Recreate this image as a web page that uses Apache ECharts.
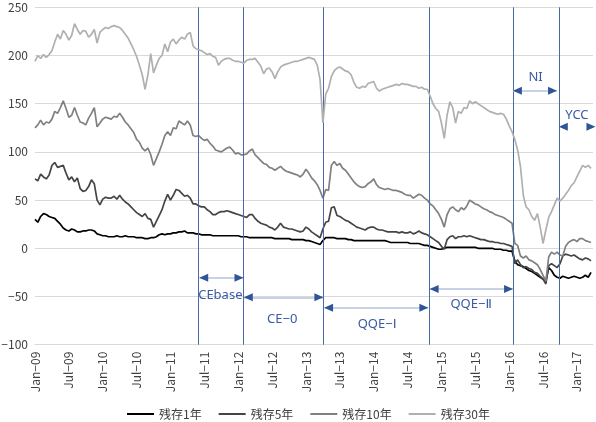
<!DOCTYPE html>
<html><head><meta charset="utf-8">
<script src="https://cdn.jsdelivr.net/npm/echarts@6/dist/echarts.min.js"></script>
<style>html,body{margin:0;padding:0;background:#fff}#c{width:596px;height:422px}</style>
</head><body><div id="c"></div>
<script>
// x positions: months since Jan-2009, half-month steps
const tickLabels = ['Jan−09','Jul−09','Jan−10','Jul−10','Jan−11','Jul−11','Jan−12','Jul−12','Jan−13','Jul−13','Jan−14','Jul−14','Jan−15','Jul−15','Jan−16','Jul−16','Jan−17'];
const seriesNames = ['残存1年','残存5年','残存10年','残存30年'];

const y1 = [
30,27,33,36,35,33,32,31,28,25,
21,19,18,20,19,17,17,18,18,19,
19,18,15,14,13,13,12,12,12,13,
12,12,13,12,12,12,11,11,11,10,
10,11,11,12,14,15,14,15,15,16,
16,17,17,18,16,16,16,15,15,14,
14,14,14,13,13,13,13,13,13,13,
13,13,13,12,12,12,11,11,11,11,
11,11,11,11,11,10,10,10,10,10,
10,9,9,9,9,9,8,8,7,6,
5,4,8,11,11,11,11,10,10,10,
10,9,9,8,8,8,8,8,8,8,
8,8,8,8,8,7,6,6,6,6,
6,6,6,5,5,5,5,4,3,3,
2,1,0,-1,-1,0,1,1,1,1,
1,1,1,1,1,1,1,0,0,0,
0,0,0,-1,-1,-1,-2,-2,-3,-3,
-13,-17,-18,-19,-21,-23,-24,-26,-28,-30,
-32,-34,-20,-23,-28,-30,-31,-29,-30,-31,
-30,-29,-30,-31,-30,-28,-30,-25
];
const y5 = [
72,70,77,74,72,76,86,89,84,85,
86,78,71,74,69,73,62,59,60,64,
71,67,50,45,51,53,52,52,54,51,
55,51,48,46,43,40,37,35,33,36,
31,30,22,28,34,40,49,56,50,55,
61,60,57,54,55,52,46,46,44,43,
43,40,38,35,35,37,38,38,39,38,
37,36,35,34,33,32,35,35,31,28,
26,25,24,22,21,19,22,26,22,21,
20,20,19,18,17,18,22,20,17,15,
13,11,20,27,28,42,43,34,33,31,
29,28,26,24,22,21,20,19,21,22,
22,20,19,19,18,17,17,17,17,16,
17,16,16,17,15,16,18,16,15,14,
12,10,8,6,2,-1,9,12,13,10,
12,12,13,12,13,12,11,10,9,9,
8,7,7,6,6,5,5,4,3,2,
-16,-12,-17,-20,-19,-21,-22,-25,-26,-29,
-32,-37,-18,-16,-18,-20,-16,-8,-6,-7,
-8,-7,-9,-11,-12,-10,-11,-13
];
const y10 = [
125,128,133,128,131,130,134,142,140,146,
153,145,136,138,146,138,131,130,128,135,
140,146,126,130,134,136,135,134,137,136,
140,136,131,128,124,120,113,110,104,101,
104,97,86,93,100,108,117,121,117,125,
124,132,130,128,132,128,117,116,117,114,
112,113,109,106,102,101,100,102,104,105,
102,98,99,97,97,98,101,103,97,94,
91,88,87,84,83,81,83,85,82,80,
79,78,77,76,74,77,82,78,73,70,
66,60,52,61,60,86,90,86,88,83,
81,77,73,69,66,64,63,64,67,69,
72,66,63,62,61,62,61,60,60,59,
58,56,55,55,52,54,56,55,52,50,
46,44,40,36,30,22,35,41,43,40,
38,42,40,44,50,48,46,45,43,41,
40,38,37,35,34,33,32,30,28,26,
5,3,-8,-10,-8,-12,-13,-15,-17,-22,
-28,-34,-9,-4,-6,-4,-7,-8,2,6,
8,9,7,10,10,8,7,6
];
const y30 = [
194,200,197,201,198,201,205,214,222,217,
226,222,216,221,233,227,222,226,225,219,
222,227,213,224,227,229,228,230,231,230,
229,226,222,218,212,206,199,190,180,165,
180,202,182,190,197,200,212,204,214,217,
212,216,219,217,222,224,210,207,206,205,
203,201,202,199,198,190,194,196,197,197,
195,194,194,193,192,195,196,196,197,193,
189,181,186,187,183,176,183,188,190,191,
192,193,194,194,195,196,197,198,197,196,
190,175,130,160,166,178,184,187,188,186,
184,183,180,172,167,166,168,167,171,172,
173,166,163,165,166,167,168,169,170,169,
171,170,170,169,168,168,166,167,165,165,
158,150,145,142,130,114,138,152,146,130,
142,140,146,145,153,150,152,150,148,146,
144,142,141,140,139,140,139,134,127,121,
113,102,85,55,43,40,33,29,36,22,
5,19,32,38,45,52,49,52,56,60,
65,68,74,80,86,84,86,83
];
const months = y1.map((_, i) => i * 0.5);

// policy events (months since Jan-2009)
const policyLines = [28.94, 36.85, 51.06, 69.82, 84.69, 92.83];
const annotations = [
  {text:'CEbase', from:29.17, to:36.85, arrowY:-30.5, textX:32.83, textY:-48.4},
  {text:'CE−0', from:37.08, to:51.0, arrowY:-50.8, textX:43.8, textY:-73.7},
  {text:'QQE−Ⅰ', from:51.3, to:69.6, arrowY:-61.6, textX:60.6, textY:-78.5},
  {text:'QQE−Ⅱ', from:70.0, to:84.6, arrowY:-42.2, textX:77.26, textY:-57.8},
  {text:'NI', from:84.74, to:92.4, arrowY:163.5, textX:88.67, textY:177.4},
  {text:'YCC', from:92.88, to:99.2, arrowY:126.1, textX:96.0, textY:138.3}
];

const colors = ['#000000','#454545','#808080','#b0b0b0'];
const values = [y1, y5, y10, y30];
const FONT = '"Noto Sans CJK JP", "Noto Sans", sans-serif';
const ANN_FONT = '"Noto Sans", "DejaVu Sans", "Noto Sans CJK JP", sans-serif';
const ANN_COLOR = '#3a5ba3';
const HEAD = 0.71;

const series = seriesNames.map((name, k) => ({
  name, type:'line', symbol:'none', showSymbol:false,
  data: months.map((m, i) => [m, values[k][i]]),
  lineStyle:{color:colors[k], width:1.7},
  itemStyle:{color:colors[k]},
  animation:false, z: 2 + k
}));

const shafts = annotations.map(a => [{coord:[a.from, a.arrowY]}, {coord:[a.to, a.arrowY]}]);
const vlines = policyLines.map(x => ({xAxis:x}));
const heads = [];
const texts = [];
annotations.forEach(a => {
  heads.push({coord:[a.from + HEAD, a.arrowY], symbol:'triangle', symbolSize:[8,9], symbolRotate:90});
  heads.push({coord:[a.to - HEAD, a.arrowY], symbol:'triangle', symbolSize:[8,9], symbolRotate:-90});
  texts.push({coord:[a.textX, a.textY], symbol:'rect', symbolSize:1,
    itemStyle:{color:'rgba(0,0,0,0)'},
    label:{show:true, position:'inside', formatter:a.text, color:ANN_COLOR, fontSize:13, fontFamily:ANN_FONT}});
});

series.push({
  name:'events', type:'line', data:[], clip:false, animation:false, z:10,
  markLine:{silent:true, symbol:'none', animation:false, label:{show:false},
    lineStyle:{color:'#4a6aa5', width:1, type:'solid'},
    data: vlines},
});
series.push({
  name:'arrows', type:'line', data:[], clip:false, animation:false, z:11,
  markLine:{silent:true, symbol:'none', animation:false, label:{show:false},
    lineStyle:{color:'#c9d2e4', width:2, type:'solid'},
    data: shafts},
  markPoint:{silent:true, animation:false,
    itemStyle:{color:'#2f5597'},
    label:{show:false},
    data: heads.concat(texts)}
});

const chart = echarts.init(document.getElementById('c'), null, {renderer:'canvas'});
chart.setOption({
  animation:false,
  backgroundColor:'#ffffff',
  grid:{left:35, right:3, top:7.3, bottom:77.3, containLabel:false, outerBoundsMode:'none'},
  legend:{
    data: seriesNames, left:122, top:403, itemWidth:27, itemHeight:12, itemGap:17,
    textStyle:{fontSize:12, color:'#404040', fontFamily:FONT},
    icon:'path://M0,5 L27,5 L27,7 L0,7 Z'
  },
  xAxis:{
    type:'value', min:0, max:98.85, interval:6,
    axisLine:{onZero:false, lineStyle:{color:'#d9d9d9'}},
    axisTick:{show:false},
    splitLine:{show:false},
    axisLabel:{
      rotate:90, margin:7, fontSize:12, color:'#404040', fontFamily:FONT,
      showMaxLabel:false,
      formatter: v => { const i = Math.round(v / 6); return Math.abs(v - i*6) < 1e-6 && tickLabels[i] ? tickLabels[i] : ''; }
    }
  },
  yAxis:{
    type:'value', min:-100, max:250, interval:50,
    axisLine:{show:false}, axisTick:{show:false},
    splitLine:{lineStyle:{color:'#d9d9d9', width:1}},
    axisLabel:{fontSize:12, color:'#404040', margin:7, fontFamily:FONT,
      formatter: v => v < 0 ? '−' + (-v) : String(v)}
  },
  series
});
</script>
</body></html>
